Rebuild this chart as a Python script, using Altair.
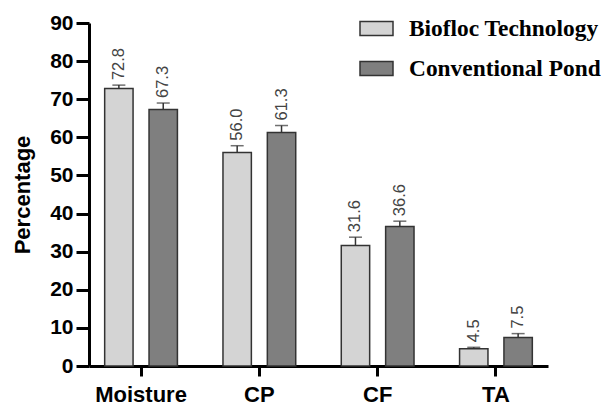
import altair as alt
import pandas as pd

categories = ["Moisture", "CP", "CF", "TA"]
groups = ["Biofloc Technology", "Conventional Pond"]
bft_values = [72.8, 56.0, 31.6, 4.5]
conv_values = [67.3, 61.3, 36.6, 7.5]
bft_errors = [0.9, 1.8, 2.2, 0.4]
conv_errors = [1.7, 1.8, 1.4, 1.0]
y_ticks = [0, 10, 20, 30, 40, 50, 60, 70, 80, 90]

rows = []
for i, c in enumerate(categories):
    rows.append({"cat": c, "group": groups[0], "value": bft_values[i],
                 "upper": bft_values[i] + bft_errors[i], "label": f"{bft_values[i]:.1f}"})
    rows.append({"cat": c, "group": groups[1], "value": conv_values[i],
                 "upper": conv_values[i] + conv_errors[i], "label": f"{conv_values[i]:.1f}"})
df = pd.DataFrame(rows)

x = alt.X("cat:N", sort=categories,
          scale=alt.Scale(paddingInner=0.25, paddingOuter=0.065),
          axis=alt.Axis(title=None, labelAngle=0, tickSize=10, labelPadding=8,
                        labelFontSize=22))
xo = alt.XOffset("group:N", sort=groups,
                 scale=alt.Scale(paddingInner=0.36, paddingOuter=0.18))

y_scale = alt.Scale(domain=[0, 90], nice=False)
y_axis = alt.Axis(values=y_ticks, title="Percentage", tickSize=13,
                  labelPadding=3, titlePadding=15, titleFontSize=22,
                  labelFontSize=21, labelOverlap=False, tickCount=10)

fill = alt.Fill("group:N", sort=groups,
                scale=alt.Scale(domain=groups, range=["#d4d4d4", "#7f7f7f"]),
                legend=alt.Legend(title=None, orient="none", legendX=270, legendY=-12,
                                  symbolType="M-1,-0.42H1V0.42H-1Z", symbolSize=1089,
                                  symbolStrokeColor="#333333", symbolStrokeWidth=1.5,
                                  symbolOpacity=1,
                                  labelFont="Liberation Serif", labelFontWeight="bold",
                                  labelFontSize=23.4, labelColor="black", labelLimit=400,
                                  labelOffset=15, rowPadding=11, padding=0))

base = alt.Chart(df)

bars = base.mark_bar(stroke="#333333", strokeWidth=1.5).encode(
    x=x, xOffset=xo,
    y=alt.Y("value:Q", scale=y_scale, axis=y_axis),
    fill=fill,
)

err = base.mark_rule(color="#333333", strokeWidth=1.5).encode(
    x=x, xOffset=xo, y=alt.Y("value:Q", scale=y_scale, axis=y_axis), y2="upper:Q")

caps = base.mark_tick(color="#333333", thickness=1.5, size=13, orient="horizontal").encode(
    x=x, xOffset=xo, y=alt.Y("upper:Q", scale=y_scale, axis=y_axis))

labels = base.mark_text(angle=270, align="left", baseline="middle", dx=5,
                        font="Liberation Sans", fontSize=16.5, color="#444444").encode(
    x=x, xOffset=xo, y=alt.Y("upper:Q", scale=y_scale, axis=y_axis), text="label:N")

chart = alt.layer(bars, err, caps, labels).properties(
    width=459, height=343,
    autosize=alt.AutoSizeParams(type="none"),
    padding={"left": 81, "top": 15, "right": 56, "bottom": 36},
).configure_view(stroke=None).configure_axis(
    domainColor="black", domainWidth=3, tickColor="black", tickWidth=3,
    grid=False, labelFont="Liberation Sans", labelFontWeight="bold",
    labelColor="black", titleFont="Liberation Sans", titleFontWeight="bold",
    titleColor="black",
)

chart.save("out.html", embed_options={"renderer": "svg", "actions": False})
